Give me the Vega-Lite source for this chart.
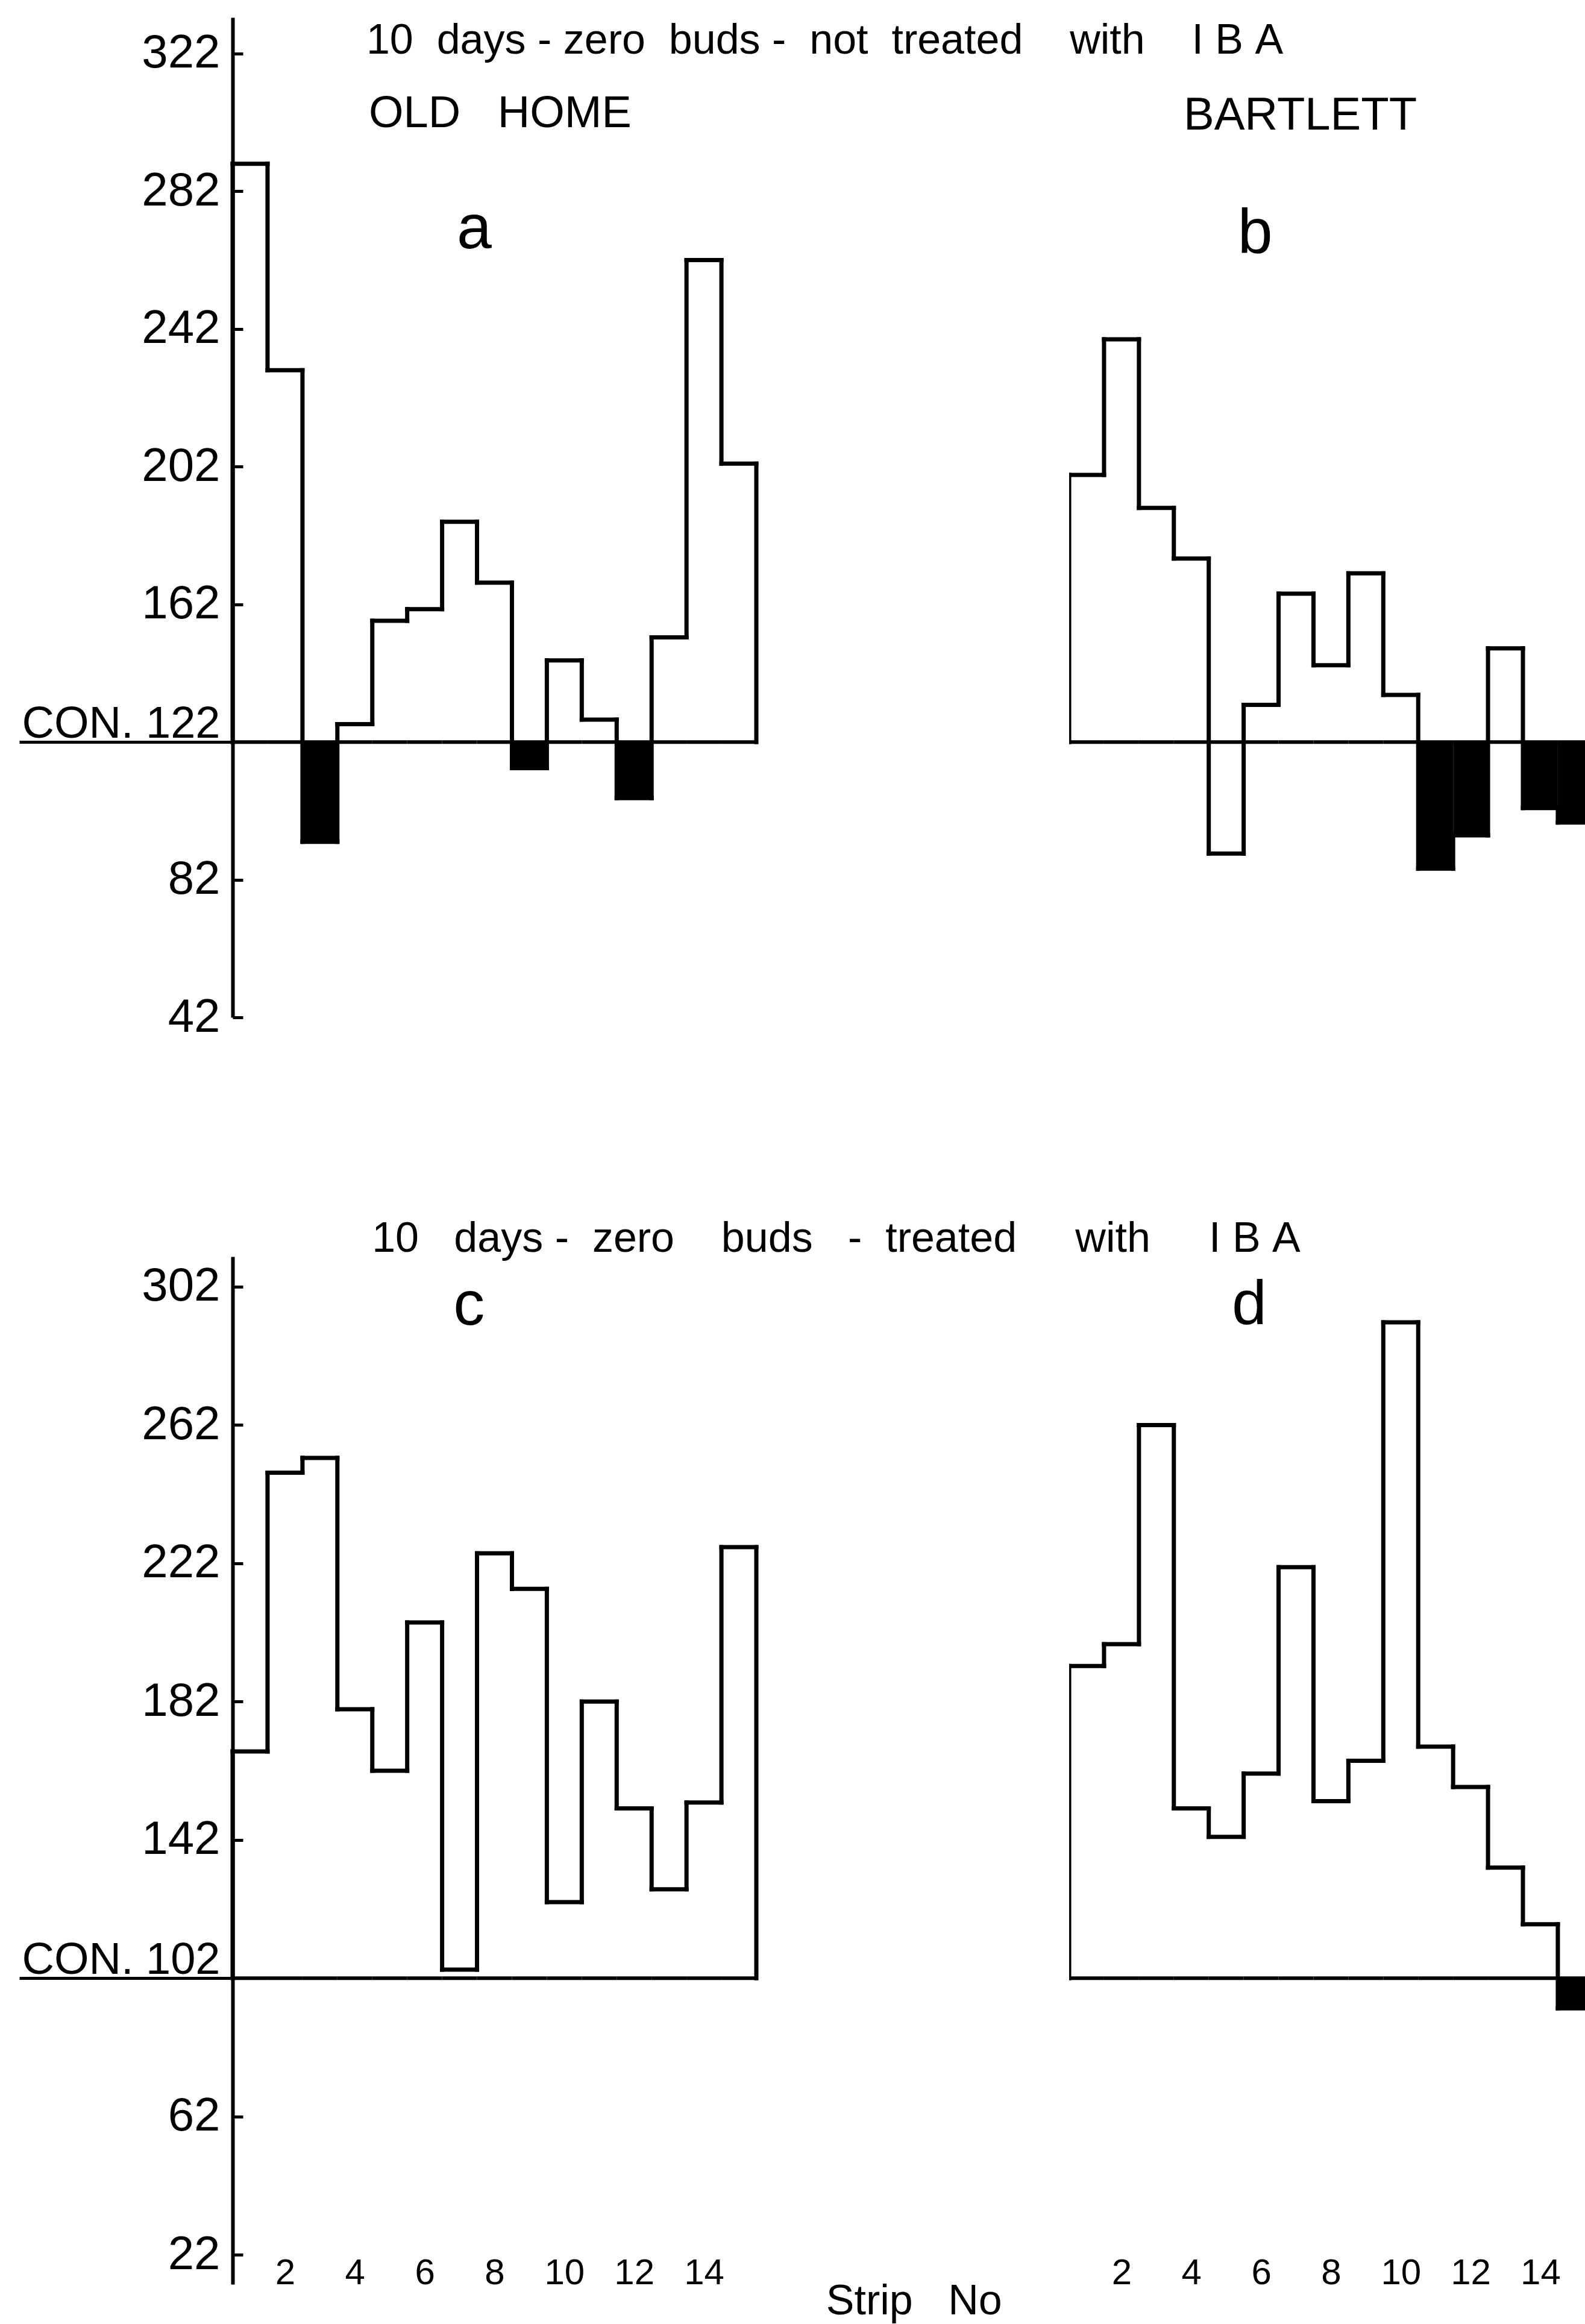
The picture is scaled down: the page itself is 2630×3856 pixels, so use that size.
{
  "$schema": "https://vega.github.io/schema/vega-lite/v6.json",
  "background": "white",
  "padding": {"left": 29, "top": 29, "right": 0, "bottom": 0},
  "autosize": {"type": "pad"},
  "config": {"view": {"stroke": null}, "font": "Liberation Sans", "text": {"color": "black"}},
  "data": {"values": [
    {"panel": "a", "strip": 1, "value": 290, "control": 122, "sig_lower": 0},
    {"panel": "a", "strip": 2, "value": 230, "control": 122, "sig_lower": 0},
    {"panel": "a", "strip": 3, "value": 93, "control": 122, "sig_lower": 1},
    {"panel": "a", "strip": 4, "value": 127.2, "control": 122, "sig_lower": 0},
    {"panel": "a", "strip": 5, "value": 157.2, "control": 122, "sig_lower": 0},
    {"panel": "a", "strip": 6, "value": 160.6, "control": 122, "sig_lower": 0},
    {"panel": "a", "strip": 7, "value": 186, "control": 122, "sig_lower": 0},
    {"panel": "a", "strip": 8, "value": 168.3, "control": 122, "sig_lower": 0},
    {"panel": "a", "strip": 9, "value": 114.4, "control": 122, "sig_lower": 1},
    {"panel": "a", "strip": 10, "value": 145.7, "control": 122, "sig_lower": 0},
    {"panel": "a", "strip": 11, "value": 128.5, "control": 122, "sig_lower": 0},
    {"panel": "a", "strip": 12, "value": 105.7, "control": 122, "sig_lower": 1},
    {"panel": "a", "strip": 13, "value": 152.4, "control": 122, "sig_lower": 0},
    {"panel": "a", "strip": 14, "value": 262, "control": 122, "sig_lower": 0},
    {"panel": "a", "strip": 15, "value": 202.9, "control": 122, "sig_lower": 0},
    {"panel": "b", "strip": 1, "value": 199.6, "control": 122, "sig_lower": 0},
    {"panel": "b", "strip": 2, "value": 239, "control": 122, "sig_lower": 0},
    {"panel": "b", "strip": 3, "value": 190, "control": 122, "sig_lower": 0},
    {"panel": "b", "strip": 4, "value": 175.3, "control": 122, "sig_lower": 0},
    {"panel": "b", "strip": 5, "value": 89.6, "control": 122, "sig_lower": 0},
    {"panel": "b", "strip": 6, "value": 132.8, "control": 122, "sig_lower": 0},
    {"panel": "b", "strip": 7, "value": 165.1, "control": 122, "sig_lower": 0},
    {"panel": "b", "strip": 8, "value": 144.3, "control": 122, "sig_lower": 0},
    {"panel": "b", "strip": 9, "value": 171, "control": 122, "sig_lower": 0},
    {"panel": "b", "strip": 10, "value": 135.7, "control": 122, "sig_lower": 0},
    {"panel": "b", "strip": 11, "value": 85.2, "control": 122, "sig_lower": 1},
    {"panel": "b", "strip": 12, "value": 94.9, "control": 122, "sig_lower": 1},
    {"panel": "b", "strip": 13, "value": 149.2, "control": 122, "sig_lower": 0},
    {"panel": "b", "strip": 14, "value": 102.8, "control": 122, "sig_lower": 1},
    {"panel": "b", "strip": 15, "value": 98.6, "control": 122, "sig_lower": 1},
    {"panel": "c", "strip": 1, "value": 167.6, "control": 102, "sig_lower": 0},
    {"panel": "c", "strip": 2, "value": 248.2, "control": 102, "sig_lower": 0},
    {"panel": "c", "strip": 3, "value": 252.5, "control": 102, "sig_lower": 0},
    {"panel": "c", "strip": 4, "value": 179.8, "control": 102, "sig_lower": 0},
    {"panel": "c", "strip": 5, "value": 162, "control": 102, "sig_lower": 0},
    {"panel": "c", "strip": 6, "value": 204.9, "control": 102, "sig_lower": 0},
    {"panel": "c", "strip": 7, "value": 104.5, "control": 102, "sig_lower": 0},
    {"panel": "c", "strip": 8, "value": 224.9, "control": 102, "sig_lower": 0},
    {"panel": "c", "strip": 9, "value": 214.6, "control": 102, "sig_lower": 0},
    {"panel": "c", "strip": 10, "value": 124, "control": 102, "sig_lower": 0},
    {"panel": "c", "strip": 11, "value": 182, "control": 102, "sig_lower": 0},
    {"panel": "c", "strip": 12, "value": 151.1, "control": 102, "sig_lower": 0},
    {"panel": "c", "strip": 13, "value": 127.7, "control": 102, "sig_lower": 0},
    {"panel": "c", "strip": 14, "value": 152.8, "control": 102, "sig_lower": 0},
    {"panel": "c", "strip": 15, "value": 226.7, "control": 102, "sig_lower": 0},
    {"panel": "d", "strip": 1, "value": 192.3, "control": 102, "sig_lower": 0},
    {"panel": "d", "strip": 2, "value": 198.6, "control": 102, "sig_lower": 0},
    {"panel": "d", "strip": 3, "value": 262, "control": 102, "sig_lower": 0},
    {"panel": "d", "strip": 4, "value": 151.1, "control": 102, "sig_lower": 0},
    {"panel": "d", "strip": 5, "value": 142.9, "control": 102, "sig_lower": 0},
    {"panel": "d", "strip": 6, "value": 161.2, "control": 102, "sig_lower": 0},
    {"panel": "d", "strip": 7, "value": 220.9, "control": 102, "sig_lower": 0},
    {"panel": "d", "strip": 8, "value": 153.2, "control": 102, "sig_lower": 0},
    {"panel": "d", "strip": 9, "value": 164.9, "control": 102, "sig_lower": 0},
    {"panel": "d", "strip": 10, "value": 291.7, "control": 102, "sig_lower": 0},
    {"panel": "d", "strip": 11, "value": 169, "control": 102, "sig_lower": 0},
    {"panel": "d", "strip": 12, "value": 157.3, "control": 102, "sig_lower": 0},
    {"panel": "d", "strip": 13, "value": 134, "control": 102, "sig_lower": 0},
    {"panel": "d", "strip": 14, "value": 117.6, "control": 102, "sig_lower": 0},
    {"panel": "d", "strip": 15, "value": 93.3, "control": 102, "sig_lower": 1}
  ]},
  "columns": 2,
  "spacing": {"row": 397, "column": 519},
  "bounds": "flush",
  "concat": [
    {
      "width": 869, "height": 1659,
      "transform": [
        {"filter": "datum.panel === 'a'"},
        {"bin": {"extent": [0.5, 15.5], "step": 1, "nice": false}, "field": "strip", "as": ["s0", "s1"]},
        {"window": [{"op": "lag", "field": "value", "as": "prev"}], "sort": [{"field": "strip", "order": "ascending"}]}
      ],
      "encoding": {
        "x": {"field": "s0", "type": "quantitative", "scale": {"domain": [0.5, 15.5], "nice": false, "zero": false}, "axis": null},
        "y": {"field": "value", "type": "quantitative", "scale": {"domain": [42, 332.5], "nice": false, "zero": false},
          "axis": {
            "values": [42, 82, 122, 162, 202, 242, 282, 322],
            "title": null, "grid": false,
            "domainColor": "black", "domainWidth": 6,
            "tickColor": "black", "tickWidth": 5,
            "tickSize": {"condition": {"test": "datum.value === 122", "value": 354}, "value": -17},
            "labelPadding": {"condition": {"test": "datum.value === 122", "value": -333}, "value": 38},
            "labelExpr": "datum.value === 122 ? 'CON. 122' : datum.label",
            "labelFont": "Liberation Sans",
            "labelFontSize": {"condition": {"test": "datum.value === 122", "value": 74}, "value": 78},
            "labelColor": "black",
            "labelBaseline": {"condition": {"test": "datum.value === 122", "value": "alphabetic"}, "value": "middle"},
            "labelOffset": {"condition": {"test": "datum.value === 122", "value": -8}, "value": 0},
            "labelLimit": 1000,
            "labelFlush": false, "labelOverlap": false, "labelBound": false
          }}
      },
      "layer": [
        {"transform": [{"filter": "datum.sig_lower === 1"}], "mark": {"type": "rect", "color": "black"}, "encoding": {"x2": {"field": "s1"}, "y2": {"field": "control"}}},
        {"mark": {"type": "rule", "color": "black", "strokeWidth": 6}, "encoding": {"y": {"field": "control", "type": "quantitative", "scale": {"domain": [42, 332.5], "nice": false, "zero": false}}, "x2": {"field": "s1"}}},
        {"mark": {"type": "rule", "color": "black", "strokeWidth": 7, "strokeCap": "square"}, "encoding": {"x2": {"field": "s1"}}},
        {"transform": [{"filter": "isValid(datum.prev)"}], "mark": {"type": "rule", "color": "black", "strokeWidth": 7, "strokeCap": "square"}, "encoding": {"y2": {"field": "prev"}}},
        {"transform": [{"filter": "datum.strip === 1"}], "mark": {"type": "rule", "color": "black", "strokeWidth": 7, "strokeCap": "square"}, "encoding": {"y2": {"field": "control"}}},
        {"transform": [{"filter": "datum.strip === 15"}], "mark": {"type": "rule", "color": "black", "strokeWidth": 7, "strokeCap": "square"}, "encoding": {"x": {"field": "s1", "type": "quantitative", "scale": {"domain": [0.5, 15.5], "nice": false, "zero": false}, "axis": null}, "y2": {"field": "control"}}},
        {"transform": [{"filter": "datum.strip === 1"}], "mark": {"type": "text", "text": "10\u00a0\u00a0days\u00a0-\u00a0zero\u00a0\u00a0buds\u00a0-\u00a0\u00a0not\u00a0\u00a0treated\u00a0\u00a0\u00a0\u00a0with\u00a0\u00a0\u00a0\u00a0I\u00a0B\u00a0A", "font": "Liberation Sans", "fontSize": 70, "align": "left", "baseline": "alphabetic", "color": "black"},
          "encoding": {"x": {"datum": 4.33, "type": "quantitative", "scale": {"domain": [0.5, 15.5], "nice": false, "zero": false}, "axis": null}, "y": {"datum": 322, "type": "quantitative", "scale": {"domain": [42, 332.5], "nice": false, "zero": false}}}},
        {"transform": [{"filter": "datum.strip === 1"}], "mark": {"type": "text", "text": "OLD\u00a0\u00a0\u00a0HOME", "font": "Liberation Sans", "fontSize": 74, "align": "left", "baseline": "alphabetic", "color": "black"},
          "encoding": {"x": {"datum": 4.4, "type": "quantitative", "scale": {"domain": [0.5, 15.5], "nice": false, "zero": false}, "axis": null}, "y": {"datum": 300.6, "type": "quantitative", "scale": {"domain": [42, 332.5], "nice": false, "zero": false}}}},
        {"transform": [{"filter": "datum.strip === 1"}], "mark": {"type": "text", "text": "a", "font": "Liberation Sans", "fontSize": 104, "align": "center", "baseline": "alphabetic", "color": "black"},
          "encoding": {"x": {"datum": 7.42, "type": "quantitative", "scale": {"domain": [0.5, 15.5], "nice": false, "zero": false}, "axis": null}, "y": {"datum": 265.4, "type": "quantitative", "scale": {"domain": [42, 332.5], "nice": false, "zero": false}}}}
      ]
    },
    {
      "width": 859, "height": 1659,
      "transform": [
        {"filter": "datum.panel === 'b'"},
        {"bin": {"extent": [0.5, 15.5], "step": 1, "nice": false}, "field": "strip", "as": ["s0", "s1"]},
        {"window": [{"op": "lag", "field": "value", "as": "prev"}], "sort": [{"field": "strip", "order": "ascending"}]}
      ],
      "encoding": {
        "x": {"field": "s0", "type": "quantitative", "scale": {"domain": [0.5, 15.33], "nice": false, "zero": false}, "axis": null},
        "y": {"field": "value", "type": "quantitative", "scale": {"domain": [42, 332.5], "nice": false, "zero": false}, "axis": null}
      },
      "layer": [
        {"transform": [{"filter": "datum.sig_lower === 1"}], "mark": {"type": "rect", "color": "black", "clip": true}, "encoding": {"x2": {"field": "s1"}, "y2": {"field": "control"}}},
        {"mark": {"type": "rule", "color": "black", "strokeWidth": 6, "clip": true}, "encoding": {"y": {"field": "control", "type": "quantitative", "scale": {"domain": [42, 332.5], "nice": false, "zero": false}, "axis": null}, "x2": {"field": "s1"}}},
        {"mark": {"type": "rule", "color": "black", "strokeWidth": 7, "strokeCap": "square", "clip": true}, "encoding": {"x2": {"field": "s1"}}},
        {"transform": [{"filter": "isValid(datum.prev)"}], "mark": {"type": "rule", "color": "black", "strokeWidth": 7, "strokeCap": "square", "clip": true}, "encoding": {"y2": {"field": "prev"}}},
        {"transform": [{"filter": "datum.strip === 1"}], "mark": {"type": "rule", "color": "black", "strokeWidth": 7, "strokeCap": "square", "clip": true}, "encoding": {"y2": {"field": "control"}}},
        {"transform": [{"filter": "datum.strip === 15"}], "mark": {"type": "rule", "color": "black", "strokeWidth": 7, "strokeCap": "square", "clip": true}, "encoding": {"x": {"field": "s1", "type": "quantitative", "scale": {"domain": [0.5, 15.33], "nice": false, "zero": false}, "axis": null}, "y2": {"field": "control"}}},
        {"transform": [{"filter": "datum.strip === 1"}], "mark": {"type": "text", "text": "BARTLETT", "font": "Liberation Sans", "fontSize": 76, "align": "left", "baseline": "alphabetic", "color": "black"},
          "encoding": {"x": {"datum": 3.78, "type": "quantitative", "scale": {"domain": [0.5, 15.33], "nice": false, "zero": false}, "axis": null}, "y": {"datum": 299.9, "type": "quantitative", "scale": {"domain": [42, 332.5], "nice": false, "zero": false}, "axis": null}}},
        {"transform": [{"filter": "datum.strip === 1"}], "mark": {"type": "text", "text": "b", "font": "Liberation Sans", "fontSize": 104, "align": "center", "baseline": "alphabetic", "color": "black"},
          "encoding": {"x": {"datum": 5.83, "type": "quantitative", "scale": {"domain": [0.5, 15.33], "nice": false, "zero": false}, "axis": null}, "y": {"datum": 264.2, "type": "quantitative", "scale": {"domain": [42, 332.5], "nice": false, "zero": false}, "axis": null}}}
      ]
    },
    {
      "width": 869, "height": 1705,
      "transform": [
        {"filter": "datum.panel === 'c'"},
        {"bin": {"extent": [0.5, 15.5], "step": 1, "nice": false}, "field": "strip", "as": ["s0", "s1"]},
        {"window": [{"op": "lag", "field": "value", "as": "prev"}], "sort": [{"field": "strip", "order": "ascending"}]}
      ],
      "encoding": {
        "x": {"field": "s0", "type": "quantitative", "scale": {"domain": [0.5, 15.5], "nice": false, "zero": false},
          "axis": {"values": [2, 4, 6, 8, 10, 12, 14], "title": null, "domain": false, "ticks": false, "tickSize": 0, "grid": false,
            "labelPadding": -19, "labelBaseline": "middle", "labelFont": "Liberation Sans", "labelFontSize": 60, "labelColor": "black", "labelFlush": false, "labelOverlap": false}},
        "y": {"field": "value", "type": "quantitative", "scale": {"domain": [13.5, 310.7], "nice": false, "zero": false},
          "axis": {
            "values": [22, 62, 102, 142, 182, 222, 262, 302],
            "title": null, "grid": false,
            "domainColor": "black", "domainWidth": 6,
            "tickColor": "black", "tickWidth": 5,
            "tickSize": {"condition": {"test": "datum.value === 102", "value": 354}, "value": -17},
            "labelPadding": {"condition": {"test": "datum.value === 102", "value": -333}, "value": 38},
            "labelExpr": "datum.value === 102 ? 'CON. 102' : datum.label",
            "labelFont": "Liberation Sans",
            "labelFontSize": {"condition": {"test": "datum.value === 102", "value": 74}, "value": 78},
            "labelColor": "black",
            "labelBaseline": {"condition": {"test": "datum.value === 102", "value": "alphabetic"}, "value": "middle"},
            "labelOffset": {"condition": {"test": "datum.value === 102", "value": -8}, "value": 0},
            "labelLimit": 1000,
            "labelFlush": false, "labelOverlap": false, "labelBound": false
          }}
      },
      "layer": [
        {"transform": [{"filter": "datum.sig_lower === 1"}], "mark": {"type": "rect", "color": "black"}, "encoding": {"x2": {"field": "s1"}, "y2": {"field": "control"}}},
        {"mark": {"type": "rule", "color": "black", "strokeWidth": 6}, "encoding": {"y": {"field": "control", "type": "quantitative", "scale": {"domain": [13.5, 310.7], "nice": false, "zero": false}}, "x2": {"field": "s1"}}},
        {"mark": {"type": "rule", "color": "black", "strokeWidth": 7, "strokeCap": "square"}, "encoding": {"x2": {"field": "s1"}}},
        {"transform": [{"filter": "isValid(datum.prev)"}], "mark": {"type": "rule", "color": "black", "strokeWidth": 7, "strokeCap": "square"}, "encoding": {"y2": {"field": "prev"}}},
        {"transform": [{"filter": "datum.strip === 1"}], "mark": {"type": "rule", "color": "black", "strokeWidth": 7, "strokeCap": "square"}, "encoding": {"y2": {"field": "control"}}},
        {"transform": [{"filter": "datum.strip === 15"}], "mark": {"type": "rule", "color": "black", "strokeWidth": 7, "strokeCap": "square"}, "encoding": {"x": {"field": "s1", "type": "quantitative", "scale": {"domain": [0.5, 15.5], "nice": false, "zero": false}}, "y2": {"field": "control"}}},
        {"transform": [{"filter": "datum.strip === 1"}], "mark": {"type": "text", "text": "10\u00a0\u00a0\u00a0days\u00a0-\u00a0\u00a0zero\u00a0\u00a0\u00a0\u00a0buds\u00a0\u00a0\u00a0-\u00a0\u00a0treated\u00a0\u00a0\u00a0\u00a0\u00a0with\u00a0\u00a0\u00a0\u00a0\u00a0I\u00a0B\u00a0A", "font": "Liberation Sans", "fontSize": 70, "align": "left", "baseline": "alphabetic", "color": "black"},
          "encoding": {"x": {"datum": 4.49, "type": "quantitative", "scale": {"domain": [0.5, 15.5], "nice": false, "zero": false}}, "y": {"datum": 312.1, "type": "quantitative", "scale": {"domain": [13.5, 310.7], "nice": false, "zero": false}}}},
        {"transform": [{"filter": "datum.strip === 1"}], "mark": {"type": "text", "text": "c", "font": "Liberation Sans", "fontSize": 104, "align": "center", "baseline": "alphabetic", "color": "black"},
          "encoding": {"x": {"datum": 7.27, "type": "quantitative", "scale": {"domain": [0.5, 15.5], "nice": false, "zero": false}}, "y": {"datum": 291, "type": "quantitative", "scale": {"domain": [13.5, 310.7], "nice": false, "zero": false}}}},
        {"transform": [{"filter": "datum.strip === 1"}], "mark": {"type": "text", "text": "Strip\u00a0\u00a0\u00a0No", "font": "Liberation Sans", "fontSize": 70, "align": "left", "baseline": "alphabetic", "color": "black"},
          "encoding": {"x": {"datum": 17.5, "type": "quantitative", "scale": {"domain": [0.5, 15.5], "nice": false, "zero": false}}, "y": {"datum": 4.7, "type": "quantitative", "scale": {"domain": [13.5, 310.7], "nice": false, "zero": false}}}}
      ]
    },
    {
      "width": 859, "height": 1705,
      "transform": [
        {"filter": "datum.panel === 'd'"},
        {"bin": {"extent": [0.5, 15.5], "step": 1, "nice": false}, "field": "strip", "as": ["s0", "s1"]},
        {"window": [{"op": "lag", "field": "value", "as": "prev"}], "sort": [{"field": "strip", "order": "ascending"}]}
      ],
      "encoding": {
        "x": {"field": "s0", "type": "quantitative", "scale": {"domain": [0.5, 15.33], "nice": false, "zero": false},
          "axis": {"values": [2, 4, 6, 8, 10, 12, 14], "title": null, "domain": false, "ticks": false, "tickSize": 0, "grid": false,
            "labelPadding": -19, "labelBaseline": "middle", "labelFont": "Liberation Sans", "labelFontSize": 60, "labelColor": "black", "labelFlush": false, "labelOverlap": false}},
        "y": {"field": "value", "type": "quantitative", "scale": {"domain": [13.5, 310.7], "nice": false, "zero": false}, "axis": null}
      },
      "layer": [
        {"transform": [{"filter": "datum.sig_lower === 1"}], "mark": {"type": "rect", "color": "black", "clip": true}, "encoding": {"x2": {"field": "s1"}, "y2": {"field": "control"}}},
        {"mark": {"type": "rule", "color": "black", "strokeWidth": 6, "clip": true}, "encoding": {"y": {"field": "control", "type": "quantitative", "scale": {"domain": [13.5, 310.7], "nice": false, "zero": false}, "axis": null}, "x2": {"field": "s1"}}},
        {"mark": {"type": "rule", "color": "black", "strokeWidth": 7, "strokeCap": "square", "clip": true}, "encoding": {"x2": {"field": "s1"}}},
        {"transform": [{"filter": "isValid(datum.prev)"}], "mark": {"type": "rule", "color": "black", "strokeWidth": 7, "strokeCap": "square", "clip": true}, "encoding": {"y2": {"field": "prev"}}},
        {"transform": [{"filter": "datum.strip === 1"}], "mark": {"type": "rule", "color": "black", "strokeWidth": 7, "strokeCap": "square", "clip": true}, "encoding": {"y2": {"field": "control"}}},
        {"transform": [{"filter": "datum.strip === 15"}], "mark": {"type": "rule", "color": "black", "strokeWidth": 7, "strokeCap": "square", "clip": true}, "encoding": {"x": {"field": "s1", "type": "quantitative", "scale": {"domain": [0.5, 15.33], "nice": false, "zero": false}}, "y2": {"field": "control"}}},
        {"transform": [{"filter": "datum.strip === 1"}], "mark": {"type": "text", "text": "d", "font": "Liberation Sans", "fontSize": 104, "align": "center", "baseline": "alphabetic", "color": "black"},
          "encoding": {"x": {"datum": 5.66, "type": "quantitative", "scale": {"domain": [0.5, 15.33], "nice": false, "zero": false}}, "y": {"datum": 291.2, "type": "quantitative", "scale": {"domain": [13.5, 310.7], "nice": false, "zero": false}, "axis": null}}}
      ]
    }
  ]
}
